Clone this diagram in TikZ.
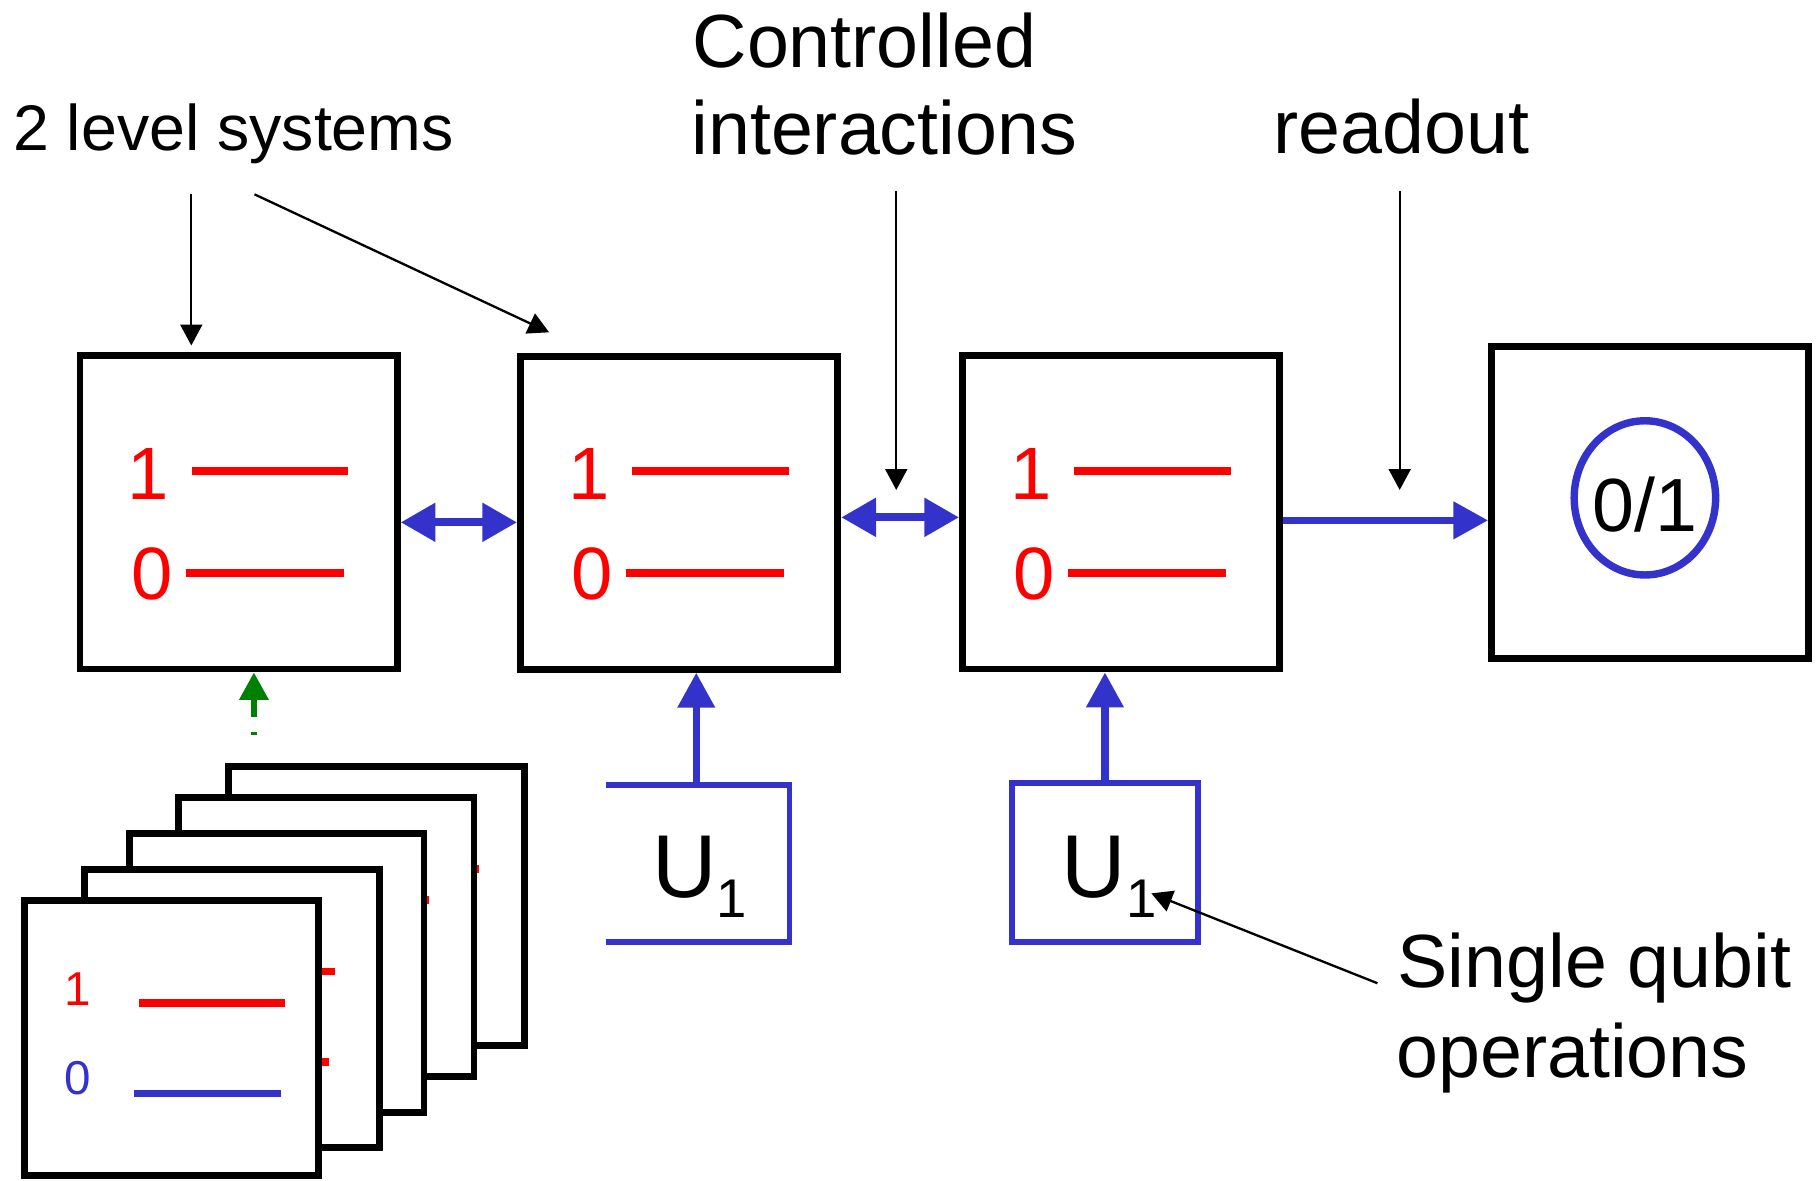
\documentclass[tikz,border=0pt]{standalone}
\usepackage{fontspec}
\setmainfont{Liberation Sans}
\usetikzlibrary{arrows.meta,shapes.geometric}
\definecolor{qblue}{RGB}{51,51,204}
\definecolor{qred}{RGB}{255,0,0}
\definecolor{qgreen}{RGB}{0,128,0}
\begin{document}
\begin{tikzpicture}[x=0.5pt,y=-0.5pt,
  qbox/.style={draw=black, line width=3pt, minimum width=136.8pt, minimum height=135pt, inner sep=0pt},
  lvl/.style={qred, line width=3.5pt},
  cardlvl/.style={line width=3.3pt},
  card/.style={draw=black, fill=white, line width=3pt},
  digit/.style={anchor=base, inner sep=0pt, text=qred, font=\fontsize{32}{38}\selectfont},
  lbl/.style={anchor=base west, inner sep=0pt, font=\fontsize{32.5}{39}\selectfont},
  utext/.style={anchor=base west, inner sep=0pt, font=\fontsize{38.5}{46}\selectfont},
  bigtip/.style={line width=3.5pt, qblue},
  thinarrow/.style={black, line width=1pt, -{Triangle[length=9pt,width=9.4pt]}},
]
\useasboundingbox (0,0) rectangle (1568,1018);

% ---- labels ----
\node[lbl, font=\fontsize{27.8}{33}\selectfont] (lev) at (11,130.2) {2 level systems};
\node[lbl] (ctrlA) at (597,58) {Controlled};
\node[lbl] (ctrlB) at (596,133) {interactions};
\node[lbl] (rd) at (1098,132.8) {readout};
\node[lbl] (sqA) at (1205,851.6) {Single qubit};
\node[lbl] (sqB) at (1204,929) {operations};

% ---- main boxes ----
\node[qbox] (b1) at (205.8,442) {};
\node[qbox] (b2) at (585.75,442.25) {};
\node[qbox] (b3) at (967,442) {};
\node[qbox, minimum width=136.75pt, minimum height=134.5pt] (b4) at (1423.25,433.5) {};

\foreach \b/\cx in {b1/205.8, b2/585.75, b3/967}{
  \draw[lvl] ({\cx-40.5},406.5) -- ({\cx+94.5},406.5);
  \draw[lvl] ({\cx-45.5},494) -- ({\cx+90.5},494);
  \node[digit] (\b-one) at ({\cx-78},430.5) {1};
  \node[digit] (\b-zero) at ({\cx-75},517) {0};
}

% ---- readout ----
\node[draw=qblue, line width=3.2pt, ellipse, minimum width=61pt, minimum height=66.5pt, inner sep=0pt] (ell) at (1418.7,429.4) {};
\node[anchor=base, inner sep=0pt, font=\fontsize{32.5}{39}\selectfont] (ro) at (1418.7,458) {0/1};

% ---- interaction arrows ----
\draw[bigtip, {Triangle[length=15pt,width=16pt]}-{Triangle[length=15pt,width=16pt]}]
  (b1.east |- 0,450.5) -- (b2.west |- 0,450.5);
\draw[bigtip, {Triangle[length=15pt,width=16pt]}-{Triangle[length=15pt,width=16pt]}]
  (b2.east |- 0,446.2) -- (b3.west |- 0,446.2);
\draw[bigtip, line width=3.25pt, -{Triangle[length=15pt,width=15.5pt]}]
  (b3.east |- 0,448.8) -- (b4.west |- 0,448.8);

% ---- U boxes ----
\node[inner sep=0pt, outer sep=0pt, minimum width=79pt, minimum height=67.8pt] (u1) at (602,744.8) {};
\draw[qblue, line width=2.45pt] (u1.north west) -- (u1.north east) -- (u1.south east) -- (u1.south west);
\node[draw=qblue, line width=2.45pt, inner sep=0pt, outer sep=0pt, minimum width=80pt, minimum height=68.5pt] (u2) at (953,744) {};
\node[utext] (ut1) at (562,774) {U\raisebox{-8.5pt}{\fontsize{23.5}{28}\selectfont 1}};
\node[utext] (ut2) at (915.4,774) {U\raisebox{-8.5pt}{\fontsize{23.5}{28}\selectfont 1}};

\draw[bigtip, line width=3.1pt, -{Triangle[length=15pt,width=15.5pt]}]
  (u1.north -| 600.5,0) -- (b2.south -| 600.5,0);
\draw[bigtip, line width=3.1pt, -{Triangle[length=15pt,width=15.5pt]}]
  (u2.north) -- (b3.south -| u2.north);

% ---- label arrows ----
\coordinate (levA) at (165,167.6);
\coordinate (levAt) at (165,298);
\coordinate (levB) at (219.5,167.6);
\coordinate (levBt) at (473.6,286.6);
\coordinate (ctrlS) at (773,165);
\coordinate (ctrlT) at (773,422.6);
\coordinate (rdS) at (1207.2,165);
\coordinate (rdT) at (1207.2,422.6);
\coordinate (sqS) at (1188,848);
\coordinate (sqT) at (993,770.5);
\draw[thinarrow] (levA) -- (levAt);
\draw[thinarrow] (levB) -- (levBt);
\draw[thinarrow] (ctrlS) -- (ctrlT);
\draw[thinarrow] (rdS) -- (rdT);
\draw[thinarrow] (sqS) -- (sqT);

% ---- stack of cards ----
\foreach \l/\t/\r/\bt in {196.7/661.4/452/902, 153.6/688/408.8/928.5, 111.4/719/365.7/959.5, 73/750/327/990}{
  \draw[card] (\l,\t) rectangle (\r,\bt);
  \draw[cardlvl, qred] ({\l+100},{\t+88}) -- ({\r-38.5},{\t+88});
  \draw[cardlvl, qred] ({\l+95},{\t+166}) -- ({\r-43},{\t+166});
}
\draw[card] (21,777) rectangle (275,1014);
\draw[cardlvl, qred] (119.8,864.8) -- (246,864.8);
\draw[cardlvl, qblue] (115.4,943) -- (242.3,943);
\node[anchor=base, inner sep=0pt, text=qred, font=\fontsize{20.5}{24}\selectfont] (c1one) at (67,867) {1};
\node[anchor=base, inner sep=0pt, text=qblue, font=\fontsize{20.5}{24}\selectfont] (c1zero) at (67,944) {0};

% ---- green arrow ----
\coordinate (gs) at (219,634);
\draw[qgreen, line width=2.45pt, dash pattern=on 1.25pt off 6.75pt on 80pt, -{Triangle[length=11.8pt,width=12.2pt]}]
  (gs) -- (b1.south -| gs);
\end{tikzpicture}
\end{document}
